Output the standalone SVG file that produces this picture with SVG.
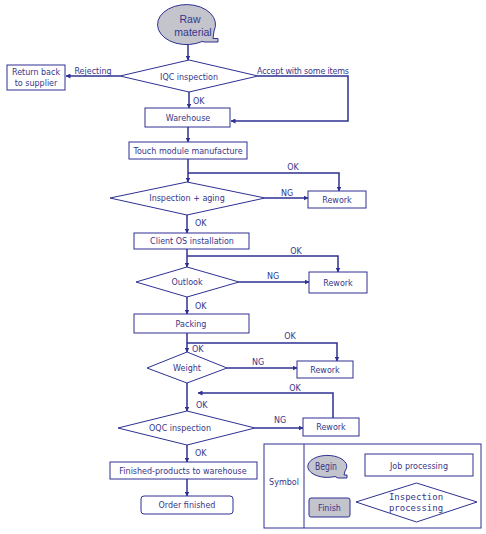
<svg xmlns="http://www.w3.org/2000/svg" width="486" height="534" viewBox="0 0 486 534">
<defs>
<marker id="ah" viewBox="0 0 10 10" refX="9" refY="5" markerWidth="5" markerHeight="5" markerUnits="userSpaceOnUse" orient="auto"><path d="M0,0 L10,5 L0,10 Z" fill="#2e3192"/></marker>
<style>
.box{fill:#fff;stroke:#2e3192;stroke-width:1}
.gray{fill:#c4c4cc;stroke:#2e3192;stroke-width:1}
.ln{fill:none;stroke:#2e3192;stroke-width:1.5}
.arr{fill:none;stroke:#2e3192;stroke-width:1.5;marker-end:url(#ah)}
text{font-family:"DejaVu Sans",Verdana,sans-serif;font-size:8px;fill:#36368a;text-anchor:middle;dominant-baseline:central}
.lbl{text-anchor:start}
.big{font-family:"Liberation Sans",Arial,sans-serif;font-size:10.5px}
.mono{font-family:"DejaVu Sans Mono","Liberation Mono",monospace;font-size:9px}
</style>
</defs>
<rect width="486" height="534" fill="#fff"/>
<g id="connectors">
<path class="arr" d="M188,43 V60"/>
<path class="arr" d="M120,76 H66"/>
<path class="arr" d="M258,76 H348 V121 H231"/>
<path class="arr" d="M189,92 V108"/>
<path class="arr" d="M188,127 V142"/>
<path class="arr" d="M188,159 V182"/>
<path class="arr" d="M188,173 H339 V191"/>
<path class="arr" d="M265,198 H308"/>
<path class="arr" d="M187,215 V233"/>
<path class="arr" d="M187,249 V267"/>
<path class="arr" d="M187,256 H338 V272"/>
<path class="arr" d="M239,282 H309"/>
<path class="arr" d="M187,297 V314"/>
<path class="arr" d="M187,333 V352"/>
<path class="arr" d="M187,343 H337 V361"/>
<path class="arr" d="M227,368 H297"/>
<path class="arr" d="M187,383 V411"/>
<path class="arr" d="M333,418 V393 H198"/>
<path class="arr" d="M255,428 H303"/>
<path class="arr" d="M187,445 V462"/>
<path class="arr" d="M187,479 V496"/>
<text x="93" y="71">Rejecting</text>
<text x="303" y="71" textLength="92">Accept with some items</text>
<text class="lbl" x="193" y="101">OK</text>
<text x="293" y="167">OK</text>
<text x="287" y="193">NG</text>
<text class="lbl" x="195" y="223">OK</text>
<text x="296" y="251">OK</text>
<text x="273" y="276">NG</text>
<text class="lbl" x="195" y="306">OK</text>
<text x="290" y="336">OK</text>
<text class="lbl" x="192" y="349">OK</text>
<text x="258" y="362">NG</text>
<text x="295" y="388">OK</text>
<text class="lbl" x="196" y="405">OK</text>
<text x="280" y="420">NG</text>
<text class="lbl" x="195" y="453">OK</text>
</g>
<g id="raw">
<path class="gray" d="M202,41.5 A29,20 0 1 1 214,31 L213,38.5 L218,38.5 L218,42 L205,42 Z"/>
<text class="big" x="190" y="18.5">Raw</text>
<text class="big" x="193" y="31.5">material</text>
</g>
<g id="iqc">
<polygon class="box" points="120,76 189,60 258,76 189,92"/>
<text x="189" y="77">IQC inspection</text>
</g>
<g id="return">
<rect class="box" x="7" y="65" width="58" height="25"/>
<text x="36" y="72">Return back</text>
<text x="36" y="83">to supplier</text>
</g>
<g id="warehouse">
<rect class="box" x="145" y="108" width="85" height="19"/>
<text x="188" y="118">Warehouse</text>
</g>
<g id="touch">
<rect class="box" x="129" y="142" width="118" height="17"/>
<text x="188" y="151">Touch module manufacture</text>
</g>
<g id="insp">
<polygon class="box" points="110,198 187,182 265,198 187,215"/>
<text x="187" y="198">Inspection + aging</text>
</g>
<g id="rework1">
<rect class="box" x="308" y="191" width="58" height="17"/>
<text x="337" y="200">Rework</text>
</g>
<g id="client">
<rect class="box" x="134" y="233" width="115" height="16"/>
<text x="192" y="241">Client OS installation</text>
</g>
<g id="outlook">
<polygon class="box" points="136,282 187,267 239,282 187,297"/>
<text x="187" y="282">Outlook</text>
</g>
<g id="rework2">
<rect class="box" x="309" y="272" width="58" height="21"/>
<text x="338" y="283">Rework</text>
</g>
<g id="packing">
<rect class="box" x="134" y="314" width="115" height="19"/>
<text x="191" y="324">Packing</text>
</g>
<g id="weight">
<polygon class="box" points="147,368 187,352 227,368 187,383"/>
<text x="187" y="368">Weight</text>
</g>
<g id="rework3">
<rect class="box" x="297" y="361" width="56" height="17"/>
<text x="325" y="370">Rework</text>
</g>
<g id="oqc">
<polygon class="box" points="118,428 187,411 255,428 187,445"/>
<text x="180" y="428">OQC inspection</text>
</g>
<g id="rework4">
<rect class="box" x="303" y="418" width="56" height="18"/>
<text x="331" y="427">Rework</text>
</g>
<g id="finished">
<rect class="box" x="110" y="462" width="147" height="17"/>
<text x="183" y="471">Finished-products to warehouse</text>
</g>
<g id="order">
<rect class="box" x="141" y="496" width="92" height="18" rx="3"/>
<text x="187" y="505">Order finished</text>
</g>
<g id="legend">
<rect class="box" x="264" y="444" width="217" height="84"/>
<line x1="304" y1="444" x2="304" y2="528" stroke="#2e3192" stroke-width="1"/>
<text x="284" y="482">Symbol</text>
<path class="gray" d="M335,476.5 A19.5,11 0 1 1 345,471 L344,475 L347,475 L347,478 L338,478 Z"/>
<text x="326" y="466" textLength="22" lengthAdjust="spacingAndGlyphs" style="font-size:10.5px">Begin</text>
<rect class="box" x="365" y="454" width="108" height="22"/>
<text x="419" y="466">Job processing</text>
<rect class="gray" x="309" y="498" width="41" height="19" rx="2"/>
<text x="329.5" y="508">Finish</text>
<polygon class="box" points="356,502 416.5,483 477,502 416.5,522"/>
<text class="mono" x="416" y="497">Inspection</text>
<text class="mono" x="416" y="508">processing</text>
</g>
</svg>
